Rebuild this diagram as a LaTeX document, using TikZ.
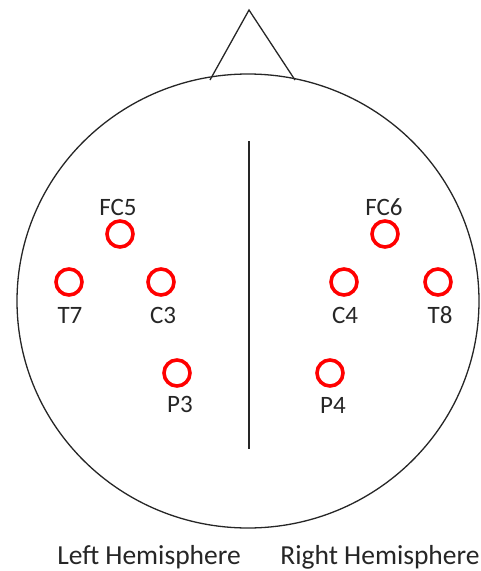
\documentclass[tikz,border=0pt]{standalone}
\usepackage{fontspec}
\setmainfont{Carlito}
\usetikzlibrary{shapes.geometric}
\begin{document}
\begin{tikzpicture}[x=1pt,y=-1pt,
  outline/.style={draw=black!85,line width=1.3pt},
  electrode/.style={circle,draw=red,line width=3.6pt,minimum size=26pt,inner sep=0pt},
  elabel/.style={text=black!85,font=\fontsize{25}{30}\selectfont,inner sep=0pt},
  hlabel/.style={text=black!85,font=\fontsize{27.5}{32}\selectfont,inner sep=0pt}]
  \useasboundingbox (0,0) rectangle (480,571);
  % head outline and nose
  \node[outline,ellipse,minimum width=462pt,minimum height=454pt,inner sep=0pt] (head) at (248,301) {};
  \coordinate (noseL) at (210,80);
  \coordinate (noseR) at (295,80);
  \coordinate (noseTip) at (249,10);
  \draw[outline,line join=miter] (noseL) -- (noseTip) -- (noseR);
  % midline
  \coordinate (midTop) at (249,141);
  \coordinate (midBot) at (249,449);
  \draw[outline] (midTop) -- (midBot);
  % electrodes
  \node[electrode] (FC5) at (120,234) {};
  \node[electrode] (T7) at (69,282) {};
  \node[electrode] (C3) at (161,282) {};
  \node[electrode] (P3) at (177,373) {};
  \node[electrode] (FC6) at (385,234) {};
  \node[electrode] (C4) at (344,282) {};
  \node[electrode] (T8) at (438,282) {};
  \node[electrode] (P4) at (330,373) {};
  % electrode labels
  \node[elabel] (lFC5) at (118,207) {FC5};
  \node[elabel] (lT7) at (70,315) {T7};
  \node[elabel] (lC3) at (163,315) {C3};
  \node[elabel] (lP3) at (180,404) {P3};
  \node[elabel] (lFC6) at (384,207) {FC6};
  \node[elabel] (lC4) at (345,315) {C4};
  \node[elabel] (lT8) at (440,315) {T8};
  \node[elabel] (lP4) at (333,405) {P4};
  % hemisphere captions
  \node[hlabel] (left) at (149,557) {Left Hemisphere};
  \node[hlabel] (right) at (380,557) {Right Hemisphere};
\end{tikzpicture}
\end{document}
